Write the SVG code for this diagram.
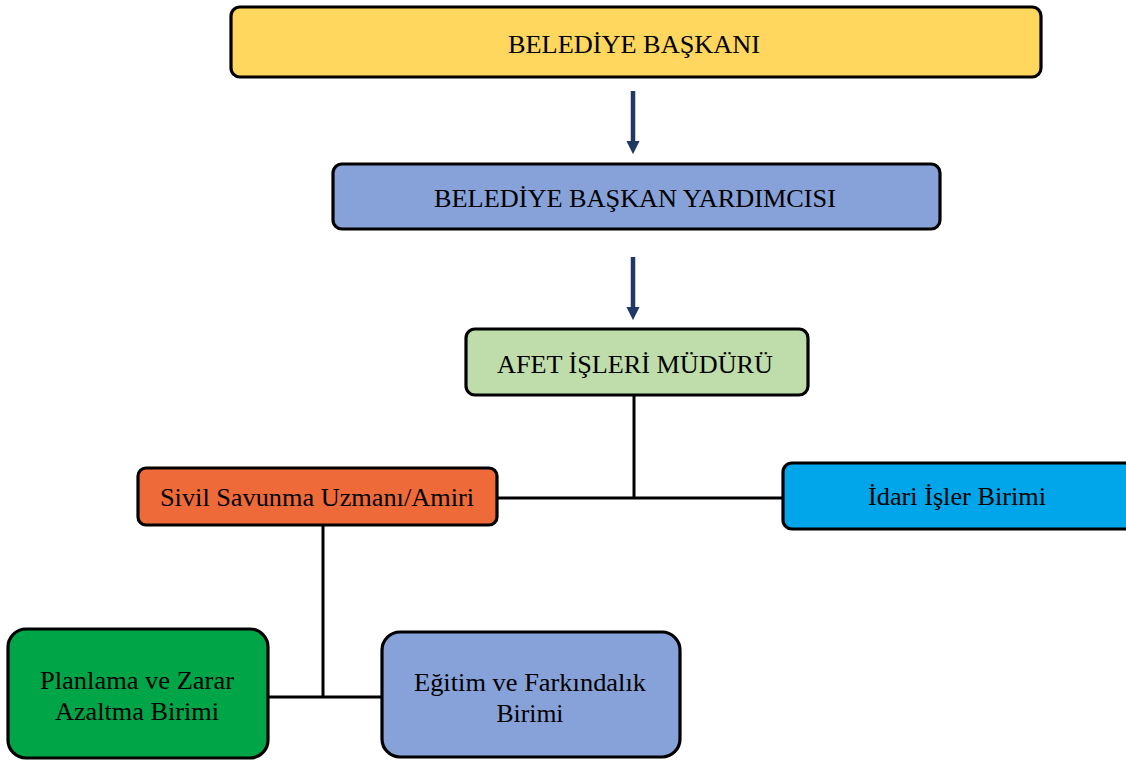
<svg xmlns="http://www.w3.org/2000/svg" width="1126" height="760" viewBox="0 0 1126 760">
<defs>
<style>
.box{stroke:#000;stroke-width:3.2}
.t{font-family:"Liberation Serif","Times New Roman",serif;font-size:26px;fill:#000;text-anchor:middle}
.ln{stroke:#000;stroke-width:3;fill:none}
.arr{stroke:#1f3864;stroke-width:4.5;fill:none}
</style>
<marker id="ah" markerWidth="3" markerHeight="3" refX="1.2" refY="1.5" orient="auto" markerUnits="strokeWidth">
<path d="M0,0 L3,1.5 L0,3 Z" fill="#1f3864"/>
</marker>
</defs>
<rect width="1126" height="760" fill="#fff"/>
<g id="connectors">
<line class="arr" x1="633" y1="91" x2="633" y2="146" marker-end="url(#ah)"/>
<line class="arr" x1="633" y1="257" x2="633" y2="312" marker-end="url(#ah)"/>
<polyline class="ln" points="634,395 634,498"/>
<line class="ln" x1="497" y1="498" x2="783" y2="498"/>
<line class="ln" x1="323" y1="526" x2="323" y2="697"/>
<line class="ln" x1="268" y1="697" x2="383" y2="697"/>
</g>
<g id="n1">
<rect class="box" x="231" y="7" width="810" height="70" rx="9" fill="#FFD65E"/>
<text class="t" x="634" y="53" textLength="252" lengthAdjust="spacingAndGlyphs">BELEDİYE BAŞKANI</text>
</g>
<g id="n2">
<rect class="box" x="333" y="164" width="607" height="65" rx="9" fill="#87A2D9"/>
<text class="t" x="635" y="207" textLength="402" lengthAdjust="spacingAndGlyphs">BELEDİYE BAŞKAN YARDIMCISI</text>
</g>
<g id="n3">
<rect class="box" x="466" y="329" width="342" height="66" rx="9" fill="#BFDDAB"/>
<text class="t" x="635" y="373" textLength="276" lengthAdjust="spacingAndGlyphs">AFET İŞLERİ MÜDÜRÜ</text>
</g>
<g id="n4">
<rect class="box" x="138" y="468" width="359" height="57" rx="8" fill="#EE6A38"/>
<text class="t" x="317" y="506" textLength="314" lengthAdjust="spacingAndGlyphs">Sivil Savunma Uzmanı/Amiri</text>
</g>
<g id="n5">
<rect class="box" x="783" y="463" width="350" height="66" rx="9" fill="#00A6E9"/>
<text class="t" x="957" y="505" textLength="178" lengthAdjust="spacingAndGlyphs">İdari İşler Birimi</text>
</g>
<g id="n6">
<rect class="box" x="8" y="629" width="260" height="129" rx="18" fill="#00A548"/>
<text class="t" x="137" y="689" textLength="194" lengthAdjust="spacingAndGlyphs">Planlama ve Zarar</text>
<text class="t" x="137" y="720" textLength="164" lengthAdjust="spacingAndGlyphs">Azaltma Birimi</text>
</g>
<g id="n7">
<rect class="box" x="382" y="632" width="298" height="125" rx="18" fill="#87A2D9"/>
<text class="t" x="530" y="691" textLength="232" lengthAdjust="spacingAndGlyphs">Eğitim ve Farkındalık</text>
<text class="t" x="530" y="722" textLength="67" lengthAdjust="spacingAndGlyphs">Birimi</text>
</g>
</svg>
